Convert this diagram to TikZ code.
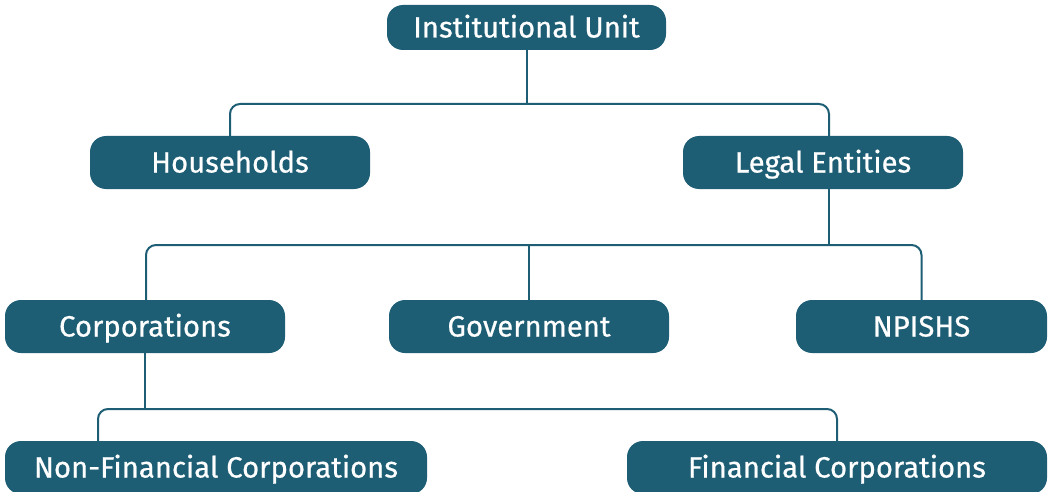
\documentclass[tikz,border=0pt]{standalone}
\usepackage{fontspec}
\setmainfont{Fira Sans}
\newfontfamily\unitfont{Fira Sans}[FakeBold=0.6]
\definecolor{unitblue}{HTML}{1E5E74}

\tikzset{
    unit/.style={fill=unitblue, text=white, rounded corners=16pt, minimum height=53pt,
        inner sep=0pt, text height=20pt, text depth=0pt, font=\unitfont\fontsize{29.3}{33}\selectfont},
    conn/.style={draw=unitblue, line width=2pt}
}

\begin{document}
\begin{tikzpicture}[x={(1pt,0)}, y={(0,-1pt)}, line join=round]

    \useasboundingbox (0,0) rectangle (1049,492);

    % Niveau 1
    \node[unit, minimum width=279pt, minimum height=45pt] (iu) at (526.5,27.5) {Institutional Unit};

    % Niveau 2
    \node[unit, minimum width=280pt] (hh) at (230,162.5) {Households};
    \node[unit, minimum width=280pt] (le) at (823,162.5) {Legal Entities};

    % Niveau 3
    \node[unit, minimum width=280pt] (corp) at (145,326.5) {Corporations};
    \node[unit, minimum width=280pt] (gov) at (529,326.5) {Government};
    \node[unit, minimum width=251pt] (npi) at (921.5,326.5) {NPISHS};

    % Niveau 4
    \node[unit, minimum width=422pt] (nfc) at (216,467.5) {Non-Financial Corporations};
    \node[unit, minimum width=420pt] (fc) at (837,467.5) {Financial Corporations};

    % bus lines
    \coordinate (bus1) at (526.5,104);
    \coordinate (bus2) at (829,245);
    \coordinate (bus3) at (145,409);

    % Institutional Unit -> Households / Legal Entities
    \draw[conn] (iu.south) -- (bus1);
    \draw[conn, rounded corners=10pt] (hh.north) |- (bus1) -| ([xshift=6pt]le.north);

    % Legal Entities -> Corporations / Government / NPISHS
    \draw[conn] ([xshift=6pt]le.south) -- (bus2);
    \draw[conn, rounded corners=10pt] ([xshift=1pt]corp.north) |- (bus2) -| (npi.north);
    \draw[conn] (gov.north) -- (gov.north |- bus2);

    % Corporations -> Non-Financial / Financial
    \draw[conn] (corp.south) -- (bus3);
    \draw[conn, rounded corners=10pt] ([xshift=-118pt]nfc.north) |- (bus3) -| (fc.north);

\end{tikzpicture}
\end{document}
